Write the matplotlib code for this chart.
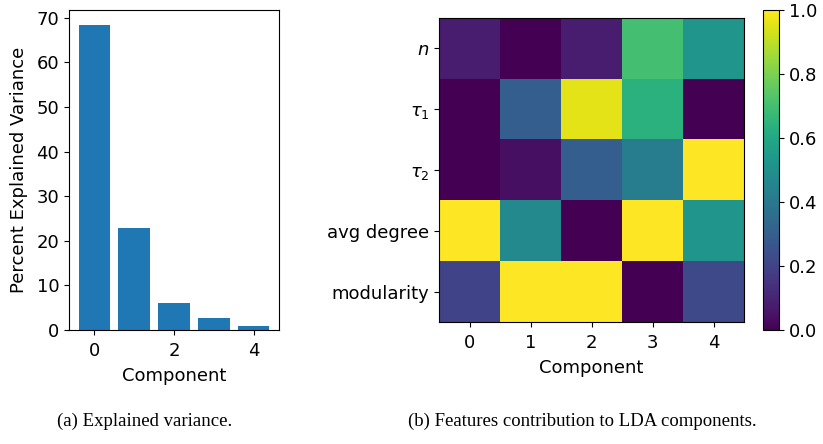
import numpy as np
import matplotlib
matplotlib.use("Agg")
import matplotlib.pyplot as plt

# explained variance per component (%)
components = [0, 1, 2, 3, 4]
explained = [68.3, 22.8, 6.0, 2.6, 0.9]

# normalised feature contributions to LDA components
features = [r"$n$", r"$\tau_1$", r"$\tau_2$", "avg degree", "modularity"]
contrib = [
    [0.08, 0.00, 0.08, 0.70, 0.52],
    [0.00, 0.30, 0.96, 0.64, 0.00],
    [0.00, 0.04, 0.30, 0.42, 1.00],
    [1.00, 0.47, 0.00, 1.00, 0.52],
    [0.20, 1.00, 1.00, 0.00, 0.22],
]

plt.rcParams["font.size"] = 13
fig = plt.figure(figsize=(8.23, 4.44), dpi=100)

# (a) bar chart
ax1 = fig.add_axes([69 / 823, 1 - 330 / 444, 210 / 823, 320 / 444])
ax1.bar(components, explained, color="#1f77b4")
ax1.set_xlabel("Component", labelpad=5)
ax1.set_ylabel("Percent Explained Variance", labelpad=6)
ax1.tick_params(axis="x", pad=5)

# (b) heatmap
ax2 = fig.add_axes([439 / 823, 1 - 322 / 444, 305 / 823, 304 / 444])
im = ax2.imshow(np.array(contrib), cmap="viridis", vmin=0, vmax=1, aspect="auto")
ax2.set_xticks(components)
ax2.set_yticks(range(len(features)))
ax2.set_yticklabels(features)
ax2.set_xlabel("Component", labelpad=5)
ax2.tick_params(axis="x", pad=5)

cax = fig.add_axes([763 / 823, 1 - 330 / 444, 16 / 823, 320 / 444])
fig.colorbar(im, cax=cax)

# captions
fig.text(145 / 823, 1 - 421 / 444, "(a) Explained variance.", ha="center", va="center",
         family="Liberation Serif", fontsize=13.5)
fig.text(582 / 823, 1 - 421 / 444, "(b) Features contribution to LDA components.",
         ha="center", va="center", family="Liberation Serif", fontsize=13.5)

fig.savefig("out.png", dpi=100)
